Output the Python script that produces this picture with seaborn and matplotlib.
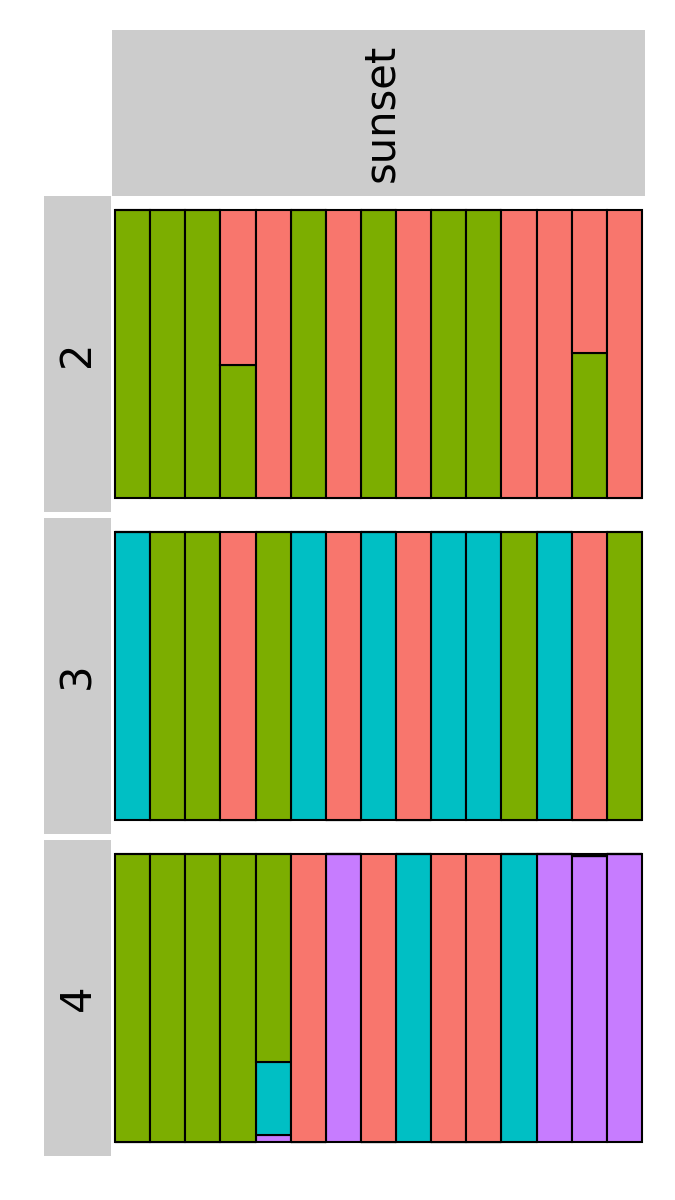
import pandas as pd
import numpy as np
import matplotlib
matplotlib.use('Agg')
import matplotlib.pyplot as plt
import seaborn as sns

# --- Dados ---
GRUPO = 'sunset'
VALORES_K = [2, 3, 4]
CLUSTERS = ['1', '2', '3', '4']
CORES = ['#F8766D', '#7CAE00', '#00BFC4', '#C77CFF']

# proporção de ancestralidade por indivíduo (15 indivíduos), uma lista por cluster
q_k2_c1 = [0, 0, 0, 0.54, 1, 0, 1, 0, 1, 0, 0, 1, 1, 0.495, 1]
q_k2_c2 = [1, 1, 1, 0.46, 0, 1, 0, 1, 0, 1, 1, 0, 0, 0.505, 0]

q_k3_c1 = [0, 0, 0, 1, 0, 0, 1, 0, 1, 0, 0, 0, 0, 1, 0]
q_k3_c2 = [0, 1, 1, 0, 1, 0, 0, 0, 0, 0, 0, 1, 0, 0, 1]
q_k3_c3 = [1, 0, 0, 0, 0, 1, 0, 1, 0, 1, 1, 0, 1, 0, 0]

q_k4_c1 = [0, 0, 0, 0, 0, 1, 0, 1, 0, 1, 1, 0, 0, 0.005, 0]
q_k4_c2 = [1, 1, 1, 1, 0.724, 0, 0, 0, 0, 0, 0, 0, 0, 0, 0]
q_k4_c3 = [0, 0, 0, 0, 0.254, 0, 0, 0, 1, 0, 0, 1, 0, 0, 0]
q_k4_c4 = [0, 0, 0, 0, 0.022, 0, 1, 0, 0, 0, 0, 0, 1, 0.995, 1]

Q_POR_K = {
    2: [q_k2_c1, q_k2_c2],
    3: [q_k3_c1, q_k3_c2, q_k3_c3],
    4: [q_k4_c1, q_k4_c2, q_k4_c3, q_k4_c4],
}


def montar_tabela():
    linhas = []
    for k, listas in Q_POR_K.items():
        for c, valores in enumerate(listas):
            for ind, q in enumerate(valores):
                linhas.append({'K': k, 'ind': ind, 'cluster': CLUSTERS[c], 'q': q})
    return pd.DataFrame(linhas)


df = montar_tabela()

sns.set_theme(style='white')
plt.rcParams['font.family'] = ['DejaVu Sans']

fig = plt.figure(figsize=(6.75, 12), dpi=100)
W, H = 675, 1200

# posições em pixels (esquerda, topo, largura, altura)
painel_x, painel_w = 112, 533
linhas_y = [196, 518, 840]
painel_h = 316


def caixa(x, y, w, h):
    return [x / W, 1 - (y + h) / H, w / W, h / H]


def faixa(rect, texto, pos_x=0.5):
    ax = fig.add_axes(rect)
    ax.set_facecolor('#CCCCCC')
    ax.set_xticks([])
    ax.set_yticks([])
    for s in ax.spines.values():
        s.set_visible(False)
    ax.text(pos_x, 0.5, texto, rotation=90, ha='center', va='center',
            fontsize=30, color='black', transform=ax.transAxes)
    return ax


# faixa superior
faixa(caixa(painel_x, 30, painel_w, 166), GRUPO, pos_x=0.505)

paleta = dict(zip(CLUSTERS, CORES))
for k, y0 in zip(VALORES_K, linhas_y):
    ax = fig.add_axes(caixa(painel_x, y0, painel_w, painel_h))
    sub = df[df['K'] == k]
    ordem = CLUSTERS[:k]
    sns.histplot(data=sub, x='ind', weights='q', hue='cluster', hue_order=ordem,
                 multiple='stack', discrete=True, shrink=1, palette=paleta,
                 edgecolor='black', linewidth=1.5, alpha=1, legend=False, ax=ax)
    ax.set_xlim(-0.59, 14.59)
    ax.set_ylim(-0.05, 1.05)
    ax.set_axis_off()
    faixa(caixa(44, y0, 67, painel_h), str(k))

fig.savefig('out.png', dpi=100, facecolor='white')
plt.close(fig)
